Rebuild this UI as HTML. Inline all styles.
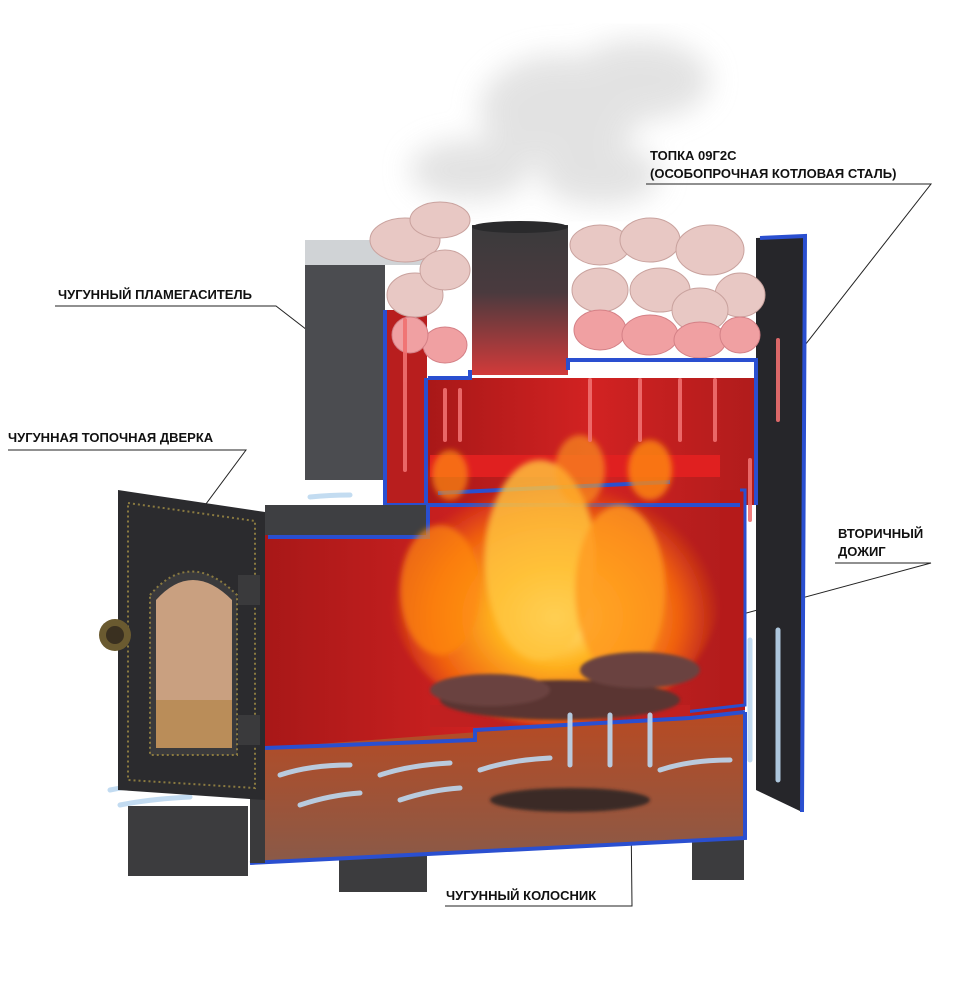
<!DOCTYPE html>
<html><head><meta charset="utf-8"><style>
html,body{margin:0;padding:0;background:#fff;}
svg{display:block;}
text{font-family:"Liberation Sans",sans-serif;font-weight:bold;font-size:13px;fill:#111;}
</style></head><body>
<svg width="953" height="991" viewBox="0 0 953 991" xmlns="http://www.w3.org/2000/svg">
<defs>
<filter id="b8"><feGaussianBlur stdDeviation="14"/></filter>
<filter id="b3"><feGaussianBlur stdDeviation="3"/></filter>
<filter id="b2"><feGaussianBlur stdDeviation="1.5"/></filter>
<linearGradient id="pipe" x1="0" y1="0" x2="0" y2="1"><stop offset="0" stop-color="#3a3a3c"/><stop offset="0.45" stop-color="#4a3a3e"/><stop offset="1" stop-color="#d23a3a"/></linearGradient>
<linearGradient id="red" x1="0" y1="0" x2="1" y2="0"><stop offset="0" stop-color="#a81818"/><stop offset="0.5" stop-color="#d22222"/><stop offset="1" stop-color="#b01c1c"/></linearGradient>
<linearGradient id="ash" x1="0" y1="0" x2="0" y2="1"><stop offset="0" stop-color="#b84a22"/><stop offset="1" stop-color="#8a5a48"/></linearGradient>
<radialGradient id="fire" cx="0.5" cy="0.6" r="0.5"><stop offset="0" stop-color="#fff2a0"/><stop offset="0.35" stop-color="#ffb420"/><stop offset="0.75" stop-color="#f06010"/><stop offset="1" stop-color="#f06010" stop-opacity="0"/></radialGradient>
</defs>
<!-- smoke -->
<g filter="url(#b8)" fill="#dcdcdc" opacity="0.8">
<ellipse cx="560" cy="110" rx="80" ry="55"/><ellipse cx="640" cy="80" rx="70" ry="40"/><ellipse cx="470" cy="170" rx="60" ry="30"/><ellipse cx="600" cy="175" rx="60" ry="30"/>
</g>
<!-- labels -->
<text x="650" y="160">ТОПКА 09Г2С</text>
<text x="650" y="178">(ОСОБОПРОЧНАЯ КОТЛОВАЯ СТАЛЬ)</text>
<polyline points="646,184 931,184 762,400" fill="none" stroke="#222" stroke-width="1"/>
<text x="58" y="299">ЧУГУННЫЙ ПЛАМЕГАСИТЕЛЬ</text>
<polyline points="55,306 276,306 483,466" fill="none" stroke="#222" stroke-width="1"/>
<text x="8" y="442">ЧУГУННАЯ ТОПОЧНАЯ ДВЕРКА</text>
<polyline points="8,450 246,450 200,512" fill="none" stroke="#222" stroke-width="1"/>
<text x="838" y="538">ВТОРИЧНЫЙ</text>
<text x="838" y="556">ДОЖИГ</text>
<polyline points="835,563 931,563 728,618" fill="none" stroke="#222" stroke-width="1"/>
<text x="446" y="900">ЧУГУННЫЙ КОЛОСНИК</text>
<polyline points="630,718 632,906 445,906" fill="none" stroke="#222" stroke-width="1"/>

<!-- legs -->
<rect x="339" y="830" width="88" height="62" fill="#3c3c3e"/>
<rect x="692" y="820" width="52" height="60" fill="#3c3c3e"/>
<!-- right side panel -->
<polygon points="756,238 805,236 802,812 756,790" fill="#26262a"/>
<polyline points="760,238 805,236 802,812" fill="none" stroke="#2a4fd0" stroke-width="4"/>
<!-- back column -->
<rect x="305" y="240" width="123" height="25" fill="#d0d3d6"/>
<rect x="305" y="265" width="80" height="215" fill="#4b4c50"/>
<rect x="385" y="310" width="42" height="210" fill="#b81e1e"/>
<!-- stones -->
<g fill="#e8c8c4" stroke="#c9a29e" stroke-width="1">
<ellipse cx="405" cy="240" rx="35" ry="22"/><ellipse cx="440" cy="220" rx="30" ry="18"/><ellipse cx="415" cy="295" rx="28" ry="22"/><ellipse cx="445" cy="270" rx="25" ry="20"/>
<ellipse cx="600" cy="245" rx="30" ry="20"/><ellipse cx="650" cy="240" rx="30" ry="22"/><ellipse cx="710" cy="250" rx="34" ry="25"/><ellipse cx="740" cy="295" rx="25" ry="22"/>
<ellipse cx="600" cy="290" rx="28" ry="22"/><ellipse cx="660" cy="290" rx="30" ry="22"/><ellipse cx="700" cy="310" rx="28" ry="22"/>
</g>
<g fill="#f0a0a2" stroke="#d48086" stroke-width="1">
<ellipse cx="445" cy="345" rx="22" ry="18"/><ellipse cx="600" cy="330" rx="26" ry="20"/><ellipse cx="650" cy="335" rx="28" ry="20"/><ellipse cx="700" cy="340" rx="26" ry="18"/><ellipse cx="740" cy="335" rx="20" ry="18"/><ellipse cx="410" cy="335" rx="18" ry="18"/>
</g>
<!-- pipe -->
<rect x="472" y="225" width="96" height="150" fill="url(#pipe)"/>
<ellipse cx="520" cy="227" rx="48" ry="6" fill="#2a2a2c"/>
<!-- upper chamber -->
<rect x="426" y="378" width="330" height="127" fill="url(#red)"/>
<path d="M428,378 H470 V370 M568,370 V360 H756 V505" fill="none" stroke="#2a4fd0" stroke-width="4"/>
<path d="M385,310 V505 H426 V378" fill="none" stroke="#2a4fd0" stroke-width="4"/>
<!-- flame damper -->
<rect x="430" y="455" width="290" height="22" fill="#e02020"/>
<line x1="438" y1="493" x2="670" y2="482" stroke="#2a4fd0" stroke-width="4"/>
<!-- top surface front box -->
<polygon points="265,517 426,505 426,537 265,537" fill="#3e3f42"/>
<!-- firebox -->
<rect x="265" y="505" width="478" height="278" fill="url(#red)"/>
<rect x="265" y="505" width="163" height="30" fill="#3e3f42"/>
<rect x="720" y="490" width="25" height="220" fill="#b51a1a"/>
<polyline points="268,537 428,537 428,505 740,505" fill="none" stroke="#2a4fd0" stroke-width="4"/>
<polyline points="740,490 745,490 745,705 685,712" fill="none" stroke="#2a4fd0" stroke-width="3"/>
<!-- grate -->
<rect x="430" y="705" width="260" height="22" fill="#c02020"/>
<!-- fire -->
<g filter="url(#b3)">
<ellipse cx="555" cy="590" rx="165" ry="135" fill="url(#fire)"/>
<ellipse cx="540" cy="560" rx="55" ry="100" fill="#ffc640" opacity="0.8"/>
<ellipse cx="620" cy="590" rx="45" ry="85" fill="#ff9a20" opacity="0.8"/>
<ellipse cx="440" cy="590" rx="40" ry="65" fill="#ff8a10" opacity="0.7"/>
<ellipse cx="650" cy="470" rx="22" ry="30" fill="#ff8a10" opacity="0.8"/>
<ellipse cx="450" cy="475" rx="18" ry="25" fill="#ff8a10" opacity="0.7"/>
<ellipse cx="580" cy="470" rx="25" ry="35" fill="#ffa020" opacity="0.6"/>
</g>
<!-- logs -->
<g filter="url(#b2)">
<ellipse cx="560" cy="700" rx="120" ry="20" fill="#5a3430"/>
<ellipse cx="640" cy="670" rx="60" ry="18" fill="#6a4240"/>
<ellipse cx="490" cy="690" rx="60" ry="16" fill="#6a4240"/>
</g>
<!-- ash chamber -->
<polygon points="265,748 745,712 745,838 265,863" fill="url(#ash)"/>
<polyline points="265,748 475,740 475,730 690,718 745,712" fill="none" stroke="#2a4fd0" stroke-width="4"/>
<polyline points="250,863 745,838 745,712" fill="none" stroke="#2a4fd0" stroke-width="4"/>
<ellipse cx="570" cy="800" rx="80" ry="12" fill="#3a2a26" filter="url(#b2)"/>
<!-- air arrows -->
<g fill="none" stroke="#bcd8f0" stroke-width="5" stroke-linecap="round" opacity="0.9">
<path d="M280,775 q30,-10 70,-10"/><path d="M380,775 q30,-10 70,-12"/><path d="M480,770 q30,-10 70,-12"/><path d="M300,805 q30,-10 60,-12"/><path d="M400,800 q30,-10 60,-12"/><path d="M110,790 q30,-6 60,-8"/><path d="M120,805 q30,-6 70,-8"/><path d="M660,770 q30,-10 70,-10"/>
<path d="M570,765 v-50"/><path d="M610,765 v-50"/><path d="M650,765 v-50"/><path d="M750,760 v-120"/><path d="M778,780 v-150"/><path d="M310,497 q20,-2 40,-2"/>
</g>
<g fill="none" stroke="#f07070" stroke-width="4" stroke-linecap="round" opacity="0.9">
<path d="M405,470 v-150"/><path d="M445,440 v-50"/><path d="M460,440 v-50"/><path d="M590,440 v-60"/><path d="M640,440 v-60"/><path d="M680,440 v-60"/><path d="M715,440 v-60"/><path d="M778,420 v-80"/><path d="M750,520 v-60"/>
</g>
<!-- front bottom plate -->
<polygon points="250,748 265,748 265,863 250,863" fill="#3a3a3c"/>
<rect x="128" y="806" width="120" height="70" fill="#3c3c3e"/>
<!-- door -->
<polygon points="118,490 265,512 265,800 118,790" fill="#2b2b2e"/>
<polygon points="128,503 255,521 255,788 128,780" fill="none" stroke="#8a7a40" stroke-width="2" stroke-dasharray="2,3"/>
<path d="M150,595 Q190,548 237,595 V755 H150 Z" fill="#3a3a3c" stroke="#8a7a40" stroke-width="2" stroke-dasharray="2,3"/>
<path d="M156,600 Q192,560 232,600 V748 H156 Z" fill="#c9a080"/>
<rect x="156" y="700" width="76" height="48" fill="#b08040" opacity="0.6"/>
<rect x="238" y="575" width="22" height="30" fill="#3a3a3c"/>
<rect x="238" y="715" width="22" height="30" fill="#3a3a3c"/>
<circle cx="115" cy="635" r="16" fill="#6a5a30"/><circle cx="115" cy="635" r="9" fill="#3a3020"/>
</svg>
</body></html>
